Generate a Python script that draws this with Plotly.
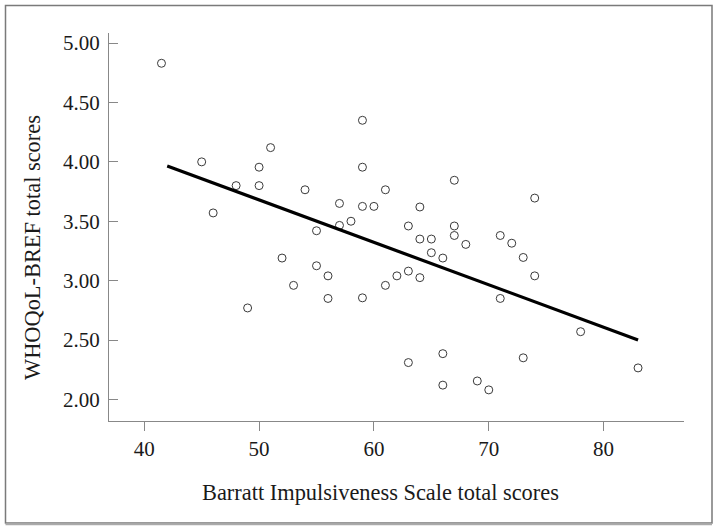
import plotly.graph_objects as go

# Data
bis_scores = [41.5, 45, 46, 48, 49, 50, 50, 51, 52, 53, 54, 55, 55, 56, 56, 57, 57, 58,
              59, 59, 59, 59, 60, 61, 61, 62, 63, 63, 63, 64, 64, 64, 65, 65, 66, 66, 66,
              67, 67, 67, 68, 69, 70, 71, 71, 72, 73, 73, 74, 74, 78, 83]
whoqol_scores = [4.83, 4.00, 3.57, 3.80, 2.77, 3.955, 3.80, 4.12, 3.19, 2.96, 3.765, 3.42, 3.125,
                 3.04, 2.85, 3.65, 3.465, 3.50, 4.35, 3.955, 3.625, 2.855, 3.625, 3.765, 2.96,
                 3.04, 3.46, 3.08, 2.31, 3.62, 3.35, 3.025, 3.35, 3.235, 3.19, 2.385, 2.12,
                 3.845, 3.46, 3.38, 3.305, 2.155, 2.08, 3.38, 2.85, 3.315, 3.195, 2.35, 3.695,
                 3.04, 2.57, 2.265]
fit_x = [42, 83]
fit_y = [3.966, 2.50]

x_ticks = [40, 50, 60, 70, 80]
y_ticks = [2.0, 2.5, 3.0, 3.5, 4.0, 4.5, 5.0]
y_tick_labels = ["2.00", "2.50", "3.00", "3.50", "4.00", "4.50", "5.00"]
x_title = "Barratt Impulsiveness Scale total scores"
y_title = "WHOQoL-BREF total scores"

W, H = 718, 530
ML, MR, MT, MB = 109, 34, 33, 109
PW, PH = W - ML - MR, H - MT - MB

def px_to_paper_x(px):
    return (px - ML) / PW

def px_to_paper_y(py):
    return (H - MB - py) / PH

FONT = "Liberation Serif, Times New Roman, serif"

fig = go.Figure()
fig.add_trace(go.Scatter(
    x=bis_scores, y=whoqol_scores, mode="markers",
    marker=dict(symbol="circle-open", size=8, color="#3a3a3a", line=dict(width=1, color="#3a3a3a")),
    showlegend=False, hoverinfo="x+y"))
fig.add_trace(go.Scatter(
    x=fit_x, y=fit_y, mode="lines",
    line=dict(color="#000000", width=3.2), showlegend=False))

# outer frame
x0, x1 = px_to_paper_x(5.5), px_to_paper_x(712)
y0, y1 = px_to_paper_y(523), px_to_paper_y(5.5)
fig.add_shape(type="rect", xref="paper", yref="paper", x0=x0, x1=x1, y0=y0, y1=y1,
              line=dict(color="#7a7a7a", width=1.5), fillcolor="rgba(0,0,0,0)", layer="above")
fig.add_shape(type="line", xref="paper", yref="paper", x0=x0, x1=x1,
              y0=px_to_paper_y(524.3), y1=px_to_paper_y(524.3),
              line=dict(color="#aaaaaa", width=2), layer="above")

# axis titles (off-centre in the reference)
fig.add_annotation(text=x_title, xref="paper", yref="paper",
                   x=px_to_paper_x(380), y=px_to_paper_y(492), xanchor="center", yanchor="middle",
                   showarrow=False, font=dict(family=FONT, size=22.4, color="#1a1a1a"))
fig.add_annotation(text=y_title, xref="paper", yref="paper", textangle=-90,
                   x=px_to_paper_x(32), y=px_to_paper_y(248), xanchor="center", yanchor="middle",
                   showarrow=False, font=dict(family=FONT, size=22.4, color="#1a1a1a"))

fig.update_layout(
    width=W, height=H,
    margin=dict(l=ML, r=MR, t=MT, b=MB),
    paper_bgcolor="white", plot_bgcolor="white",
    font=dict(family=FONT, size=21, color="#1a1a1a"),
    xaxis=dict(range=[36.93, 87.0], tickvals=x_ticks, ticks="outside", ticklen=9,
               tickcolor="#888888", tickwidth=1, showline=True, linecolor="#888888", linewidth=1.2,
               showgrid=False, zeroline=False, tickfont=dict(family=FONT, size=21)),
    yaxis=dict(range=[1.818, 5.085], tickvals=y_ticks, ticktext=y_tick_labels, ticks="inside",
               ticklen=9, tickcolor="#888888", tickwidth=1, showline=True, linecolor="#888888",
               linewidth=1.2, showgrid=False, zeroline=False, ticklabelstandoff=4,
               tickfont=dict(family=FONT, size=21)),
)

fig.write_html("out.html", config={"displayModeBar": False},
               post_script="document.body.style.margin='0';")
